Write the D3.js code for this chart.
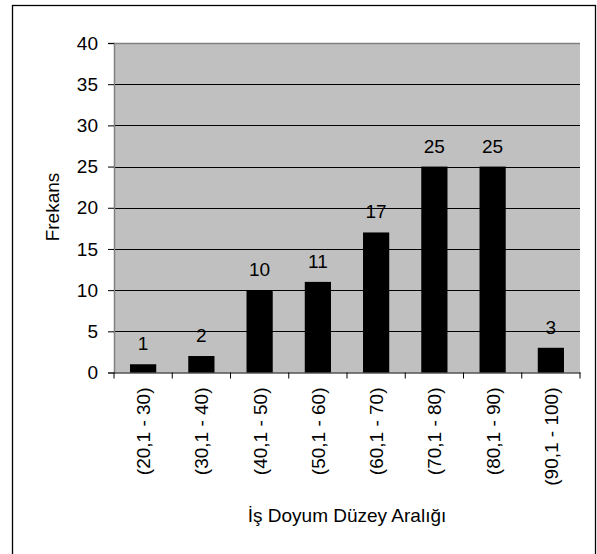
<!DOCTYPE html>
<html><head><meta charset="utf-8">
<script src="https://cdn.jsdelivr.net/npm/d3@7"></script>
<style>body{margin:0;background:#fff}svg{display:block;font-family:"Liberation Sans",Arial,sans-serif}</style>
</head><body>
<script>
const categories = ["(20,1 - 30)","(30,1 - 40)","(40,1 - 50)","(50,1 - 60)","(60,1 - 70)","(70,1 - 80)","(80,1 - 90)","(90,1 - 100)"];
const values = [1,2,10,11,17,25,25,3];
const yTicks = [0,5,10,15,20,25,30,35,40];
const xTitle = "İş Doyum Düzey Aralığı";
const yTitle = "Frekans";

const W = 597, H = 554;
const FS = 19;
const plot = {left:114, right:580, top:43, bottom:372.5};
const svg = d3.select("body").append("svg").attr("width",W).attr("height",H);

svg.append("rect").attr("x",12.5).attr("y",5.5).attr("width",583).attr("height",560)
  .attr("fill","none").attr("stroke","#000").attr("stroke-width",1.3);

const x = d3.scaleBand().domain(categories).range([plot.left,plot.right]).paddingInner(0.55).paddingOuter(0.275);
const xb = d3.scaleBand().domain(categories).range([plot.left,plot.right]);
const y = d3.scaleLinear().domain([0,40]).range([plot.bottom,plot.top]);

svg.append("rect").attr("x",plot.left).attr("y",plot.top).attr("width",plot.right-plot.left).attr("height",plot.bottom-plot.top).attr("fill","#c0c0c0");

svg.append("g").selectAll("line").data(yTicks.filter(d=>d>0 && d<40)).join("line")
  .attr("x1",plot.left).attr("x2",plot.right).attr("y1",d=>Math.round(y(d))+0.5).attr("y2",d=>Math.round(y(d))+0.5)
  .attr("stroke","#000").attr("stroke-width",1);
svg.append("line").attr("x1",plot.left).attr("x2",plot.right).attr("y1",plot.top+0.5).attr("y2",plot.top+0.5).attr("stroke","#808080").attr("stroke-width",1.5);

svg.append("g").selectAll("rect").data(values).join("rect")
  .attr("x",(d,i)=>x(categories[i])).attr("width",x.bandwidth())
  .attr("y",d=>y(d)).attr("height",d=>plot.bottom-y(d)).attr("fill","#000");

svg.append("g").selectAll("text").data(values).join("text")
  .attr("x",(d,i)=>x(categories[i])+x.bandwidth()/2).attr("y",d=>y(d)-14)
  .attr("text-anchor","middle").attr("font-size",FS).text(d=>d);

// y axis
const yAxis = svg.append("g").attr("transform",`translate(${plot.left},0)`)
  .call(d3.axisLeft(y).tickValues(yTicks).tickSize(6).tickPadding(10));
yAxis.select(".domain").attr("stroke","#808080").attr("stroke-width",1.5);
yAxis.selectAll(".tick line").attr("stroke","#000");
yAxis.selectAll("text").attr("font-size",FS).attr("font-family","Liberation Sans, Arial, sans-serif").attr("fill","#000");

// x axis
const xAxis = svg.append("g").attr("transform",`translate(0,${plot.bottom})`)
  .call(d3.axisBottom(xb).tickSize(0).tickFormat(""));
xAxis.select(".domain").attr("stroke","#000").attr("stroke-width",1.2);
svg.append("g").selectAll("line").data(d3.range(categories.length+1)).join("line")
  .attr("x1",i=>xb.range()[0]+i*xb.step()).attr("x2",i=>xb.range()[0]+i*xb.step())
  .attr("y1",plot.bottom).attr("y2",plot.bottom+6).attr("stroke","#000");

svg.append("g").selectAll("text").data(categories).join("text")
  .attr("transform",d=>`translate(${xb(d)+xb.bandwidth()/2+7},${plot.bottom+15}) rotate(-90)`)
  .attr("text-anchor","end").attr("font-size",FS).text(d=>d);

svg.append("text").attr("x",(plot.left+plot.right)/2).attr("y",522).attr("text-anchor","middle").attr("font-size",FS).text(xTitle);
svg.append("text").attr("transform","translate(59,207) rotate(-90)").attr("text-anchor","middle").attr("font-size",FS).text(yTitle);
</script>
</body></html>
